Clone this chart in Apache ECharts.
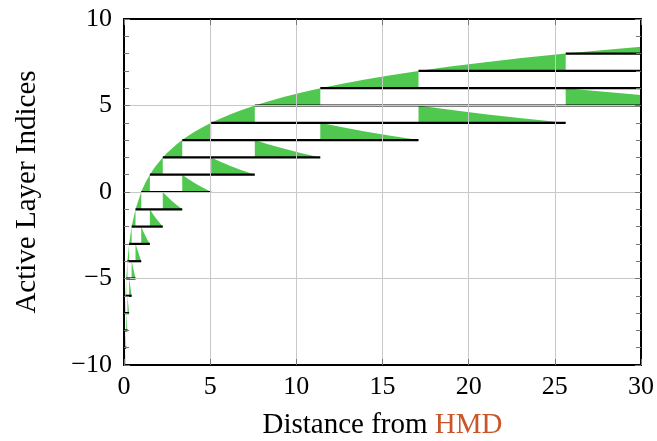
<!DOCTYPE html>
<html>
<head>
<meta charset="utf-8">
<script src="https://cdn.jsdelivr.net/npm/echarts@6/dist/echarts.min.js"></script>
<style>
html,body{margin:0;padding:0;background:#fff;}
#chart{width:657px;height:441px;}
</style>
</head>
<body>
<div id="chart"></div>
<script>
// Layer indices shown as horizontal bars
const layers = [-10,-9,-8,-7,-6,-5,-4,-3,-2,-1,0,1,2,3,4,5,6,7,8];
// Distance where each layer (-10 .. 9) begins
const layerStart = [0.0173,0.026,0.039,0.0585,0.0878,0.132,0.198,0.296,0.444,0.667,
  1.0,1.5,2.25,3.38,5.06,7.59,11.39,17.09,25.63,38.44];
// Upper boundary curve (distance, layer value)
const curveX = [0.0173,0.026,0.039,0.0585,0.0878,0.132,0.198,0.296,0.444,0.667,
  1.0,1.1,1.22,1.35,
  1.5,1.65,1.83,2.03,
  2.25,2.48,2.75,3.04,
  3.38,3.71,4.12,4.56,
  5.06,5.57,6.18,6.83,
  7.59,8.35,9.26,10.25,
  11.39,12.53,13.9,15.38,
  17.09,18.8,20.85,23.07,
  25.63,28.19,30];
const curveY = [-10,-9,-8,-7,-6,-5,-4,-3,-2,-1,
  0,0.235,0.49,0.74,
  1,1.235,1.49,1.74,
  2,2.235,2.49,2.74,
  3,3.235,3.49,3.74,
  4,4.235,4.49,4.74,
  5,5.235,5.49,5.74,
  6,6.235,6.49,6.74,
  7,7.235,7.49,7.74,
  8,8.235,8.39];
const xTicks = [0,5,10,15,20,25,30];
const yTicks = [-10,-5,0,5,10];

const XMAX = 30;
const GREEN = '#50c850';
const FONT = '"Liberation Serif", "DejaVu Serif", serif';

function curvePts(a, b) {
  const out = [];
  for (let k = 0; k < curveX.length; k++) {
    if (curveX[k] >= a - 1e-9 && curveX[k] <= b + 1e-9) out.push([curveX[k], curveY[k]]);
  }
  return out;
}

const polys = [];
const segs = [];
layers.forEach((lv, j) => {
  const a = layerStart[j];
  const b = Math.min(layerStart[j + 1], XMAX);
  // region between bar and curve
  const up = curvePts(a, b);
  up.push([b, lv]);
  polys.push(up);
  // trailing wedge at the end of the bar
  if (j + 3 < layerStart.length && layerStart[j + 3] < XMAX) {
    const a2 = layerStart[j + 3];
    const b2 = Math.min(j + 4 < layerStart.length ? layerStart[j + 4] : XMAX, XMAX);
    const pts = [[a2, lv]];
    curvePts(a2, b2).forEach(p => pts.push([p[0], 2 * lv + 4 - p[1]]));
    pts.push([b2, lv]);
    polys.push(pts);
  }
  const end = j + 4 < layerStart.length ? Math.min(layerStart[j + 4], XMAX) : XMAX;
  segs.push([[a, lv], [end, lv]]);
});

const chart = echarts.init(document.getElementById('chart'), null, {renderer: 'canvas'});

const axisCommonX = {
  type: 'value', min: 0, max: 30, interval: 5, z: 10,
  axisLine: {show: true, onZero: false, lineStyle: {color: '#000', width: 2}},
  axisTick: {show: true, inside: true, length: 6, lineStyle: {color: '#777', width: 1}},
};
const axisCommonY = {
  type: 'value', min: -10, max: 10, interval: 5, z: 10,
  axisLine: {show: true, onZero: false, lineStyle: {color: '#000', width: 2}},
  axisTick: {show: true, inside: true, length: 6, lineStyle: {color: '#777', width: 1}},
  minorTick: {show: true, splitNumber: 5, length: 5, lineStyle: {color: '#777', width: 1}},
};

chart.setOption({
  animation: false,
  backgroundColor: '#fff',
  grid: {left: 124, right: 16, top: 19, bottom: 76, containLabel: false, outerBoundsMode: 'none'},
  xAxis: [
    Object.assign({}, axisCommonX, {
      position: 'bottom',
      axisLabel: {show: true, margin: 9, color: '#000', fontFamily: FONT, fontSize: 26},
      splitLine: {show: true, lineStyle: {color: '#c8c8c8', width: 1}},
      name: '{a|Distance from }{b|HMD}',
      nameLocation: 'middle', nameGap: 46,
      nameTextStyle: {
        fontFamily: FONT, fontSize: 29,
        rich: {
          a: {fontFamily: FONT, fontSize: 29, color: '#000'},
          b: {fontFamily: FONT, fontSize: 29, color: '#c8562a'}
        }
      }
    }),
    Object.assign({}, axisCommonX, {
      position: 'top',
      axisLabel: {show: false},
      splitLine: {show: false}
    })
  ],
  yAxis: [
    Object.assign({}, axisCommonY, {
      position: 'left',
      axisLabel: {show: true, margin: 12, color: '#000', fontFamily: FONT, fontSize: 26,
        formatter: v => String(v).replace('-', '\u2212')},
      splitLine: {show: true, lineStyle: {color: '#c8c8c8', width: 1}},
      name: 'Active Layer Indices',
      nameLocation: 'middle', nameGap: 82, nameRotate: 90,
      nameTextStyle: {fontFamily: FONT, fontSize: 29, color: '#000'}
    }),
    Object.assign({}, axisCommonY, {
      position: 'right',
      axisLabel: {show: false},
      splitLine: {show: false}
    })
  ],
  series: [
    {
      type: 'custom', xAxisIndex: 0, yAxisIndex: 0, z: 2, silent: true,
      data: polys.map((p, i) => [i]),
      renderItem: (params, api) => {
        const p = polys[params.dataIndex].map(q => api.coord(q));
        return {type: 'polygon', shape: {points: p}, style: {fill: GREEN, stroke: null}};
      }
    },
    {
      type: 'custom', xAxisIndex: 0, yAxisIndex: 0, z: 3, silent: true,
      data: segs.map((s, i) => [i]),
      renderItem: (params, api) => {
        const s = segs[params.dataIndex];
        const p1 = api.coord(s[0]), p2 = api.coord(s[1]);
        return {type: 'line', shape: {x1: p1[0], y1: p1[1], x2: p2[0], y2: p2[1]},
          style: {stroke: '#000', lineWidth: 2.2}};
      }
    }
  ]
});
</script>
</body>
</html>
